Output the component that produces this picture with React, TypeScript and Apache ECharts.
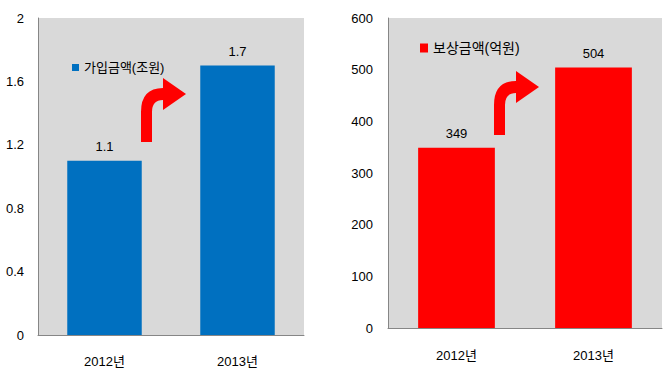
import React, { useEffect, useRef } from "react";
import * as echarts from "echarts";

const categories = ["2012년", "2013년"];
const joinAmount = [1.1, 1.7];
const payAmount = [349, 504];
const joinName = "가입금액(조원)";
const payName = "보상금액(억원)";

const FONT = "Liberation Sans, Arial, 'Noto Sans CJK KR', sans-serif";

let registered = false;
function registerArrow() {
  if (registered) return;
  registered = true;
  const d =
    "M0 0 L0 -30 Q0 -54 22 -54 L22 -64 L45 -48 L22 -32 L22 -42 Q11 -42 11 -30 L11 0 Z";
  echarts.graphic.registerShape("turnArrow", echarts.graphic.extendPath(d, {}) as any);
}

export default function App() {
  const ref = useRef<HTMLDivElement>(null);
  useEffect(() => {
    registerArrow();
    document.body.style.margin = "0";
    const chart = echarts.init(ref.current!, null, { renderer: "svg" });
    const axisLine = { show: true, lineStyle: { color: "#868686", width: 1 } };
    const yLabel = (margin: number) => ({ color: "#000", fontSize: 13, fontFamily: FONT, margin });
    chart.setOption({
      animation: false,
      backgroundColor: "#fff",
      grid: [
        { left: 38, top: 18, width: 266, height: 317, show: true, backgroundColor: "#D9D9D9", borderWidth: 0 },
        { left: 388, top: 18, width: 274, height: 310, show: true, backgroundColor: "#D9D9D9", borderWidth: 0 },
      ],
      legend: [
        {
          data: [joinName],
          left: 67,
          top: 56,
          icon: "rect",
          itemWidth: 7,
          itemHeight: 7,
          textStyle: { fontSize: 13, color: "#000", fontFamily: FONT },
        },
        {
          data: [payName],
          left: 415,
          top: 36,
          icon: "rect",
          itemWidth: 8,
          itemHeight: 9,
          textStyle: { fontSize: 14, color: "#000", fontFamily: FONT },
        },
      ],
      xAxis: [
        {
          type: "category",
          gridIndex: 0,
          data: categories,
          axisLine,
          axisTick: { show: false },
          axisLabel: { color: "#000", fontSize: 13, fontFamily: FONT, margin: 20 },
        },
        {
          type: "category",
          gridIndex: 1,
          data: categories,
          axisLine,
          axisTick: { show: false },
          axisLabel: { color: "#000", fontSize: 13, fontFamily: FONT, margin: 21 },
        },
      ],
      yAxis: [
        {
          type: "value",
          gridIndex: 0,
          min: 0,
          max: 2,
          interval: 0.4,
          axisLine,
          axisTick: { show: false },
          splitLine: { show: false },
          axisLabel: yLabel(14),
        },
        {
          type: "value",
          gridIndex: 1,
          min: 0,
          max: 600,
          interval: 100,
          axisLine,
          axisTick: { show: false },
          splitLine: { show: false },
          axisLabel: yLabel(15),
        },
      ],
      series: [
        {
          type: "bar",
          name: joinName,
          xAxisIndex: 0,
          yAxisIndex: 0,
          data: joinAmount,
          barWidth: "56%",
          itemStyle: { color: "#0070C0" },
          label: { show: true, position: "top", distance: 8, color: "#000", fontSize: 13, fontFamily: FONT },
        },
        {
          type: "bar",
          name: payName,
          xAxisIndex: 1,
          yAxisIndex: 1,
          data: payAmount,
          barWidth: "56%",
          itemStyle: { color: "#FF0000" },
          label: { show: true, position: "top", distance: 8, color: "#000", fontSize: 13, fontFamily: FONT },
        },
      ],
      graphic: [
        { type: "turnArrow", x: 141, y: 142, style: { fill: "#FF0000" }, z: 100 },
        { type: "turnArrow", x: 494, y: 135, style: { fill: "#FF0000" }, z: 100 },
      ],
    });
    return () => chart.dispose();
  }, []);
  return <div ref={ref} style={{ position: "fixed", left: 0, top: 0, width: 666, height: 372 }} />;
}
